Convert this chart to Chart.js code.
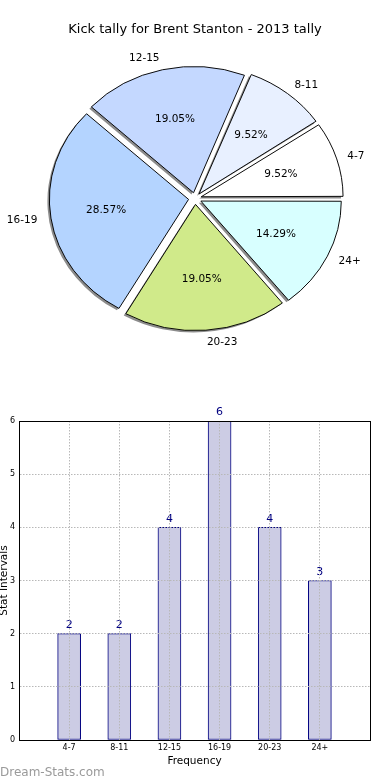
<!DOCTYPE html>
<html lang="en">
<head>
<meta charset="UTF-8">
<title>Kick tally for Brent Stanton - 2013 tally</title>
<script src="https://cdn.jsdelivr.net/npm/chart.js"></script>
<style>
  body { margin: 0; background: #fff; width: 390px; height: 780px; position: relative; overflow: hidden; font-family: 'DejaVu Sans', sans-serif; }
  .box { position: absolute; left: 0; width: 390px; height: 390px; }
  #pieBox { top: 0; }
  #barBox { top: 390px; }
  .mark { position: absolute; left: 0; top: 765px; font-size: 12px; line-height: 14px; color: #9a9a9a; }
</style>
</head>
<body>
<div id="pieBox" class="box"><canvas id="pieChart" width="390" height="390"></canvas></div>
<div id="barBox" class="box"><canvas id="barChart" width="390" height="390"></canvas></div>
<div class="mark">Dream-Stats.com</div>

<script>
// data
const categories = ['4-7', '8-11', '12-15', '16-19', '20-23', '24+'];
const counts = [2, 2, 4, 6, 4, 3];
const sliceColors = ['#ffffff', '#e8f0ff', '#c4d8ff', '#b4d4ff', '#d0ea8a', '#d8ffff'];

Chart.defaults.font.family = "'DejaVu Sans', sans-serif";

// matplotlib goes counter-clockwise from 3 o'clock, chart.js clockwise -> reverse
const pieCats = categories.slice().reverse();
const pieCounts = counts.slice().reverse();
const pieColors = sliceColors.slice().reverse();

const SY = 0.905; // the pie in the original is a bit squashed (axes not equal)

const ellipsePlugin = {
    id: 'ellipse',
    beforeDatasetsDraw(chart) {
        const ctx = chart.ctx;
        const meta = chart.getDatasetMeta(0);
        const a0 = meta.data[0];
        ctx.save();
        ctx.translate(a0.x, a0.y);
        ctx.scale(1, SY);
        ctx.translate(-a0.x, -a0.y);
        // shadows under the wedges
        ctx.fillStyle = '#8c8c8c';
        meta.data.forEach(arc => {
            const dd = arc.options.offset / 4;
            const mid = (arc.startAngle + arc.endAngle) / 2;
            const r = arc.outerRadius + dd * (1 - Math.sin(Math.min(Math.PI, arc.circumference)));
            const sx = arc.x + Math.cos(mid) * dd - 2;
            const sy = arc.y + Math.sin(mid) * dd + 2;
            ctx.beginPath();
            ctx.moveTo(sx, sy);
            ctx.arc(sx, sy, r, arc.startAngle, arc.endAngle);
            ctx.closePath();
            ctx.fill();
        });
    },
    afterDatasetsDraw(chart) {
        chart.ctx.restore();
    }
};

const pieText = {
    id: 'pieText',
    afterDatasetsDraw(chart) {
        const ctx = chart.ctx;
        const meta = chart.getDatasetMeta(0);
        const data = chart.data.datasets[0].data;
        const total = data.reduce((s, v) => s + v, 0);
        ctx.save();
        ctx.fillStyle = '#000';
        ctx.font = "10.5px 'DejaVu Sans'";
        ctx.textBaseline = 'middle';
        meta.data.forEach((arc, i) => {
            const mid = (arc.startAngle + arc.endAngle) / 2;
            const dd = arc.options.offset / 4;
            const R = arc.outerRadius;
            const c = Math.cos(mid), s = Math.sin(mid);
            ctx.textAlign = c > 0 ? 'left' : 'right';
            ctx.fillText(chart.data.labels[i], arc.x + (dd + 1.1 * R) * c, arc.y + SY * (dd + 1.1 * R) * s);
            ctx.textAlign = 'center';
            ctx.fillText((data[i] / total * 100).toFixed(2) + '%', arc.x + (dd + 0.6 * R) * c, arc.y + SY * (dd + 0.6 * R) * s);
        });
        ctx.restore();
    }
};

new Chart(document.getElementById('pieChart'), {
    type: 'pie',
    data: {
        labels: pieCats,
        datasets: [{
            data: pieCounts,
            backgroundColor: pieColors,
            borderColor: '#000',
            borderWidth: 1,
            offset: 26,
            clip: false
        }]
    },
    options: {
        responsive: false,
        animation: false,
        events: [],
        rotation: 90,
        radius: 139,
        layout: { padding: { bottom: 40.6 } },
        plugins: {
            legend: { display: false },
            tooltip: { enabled: false },
            title: {
                display: true,
                text: 'Kick tally for Brent Stanton - 2013 tally',
                color: '#000',
                font: { size: 13, weight: 'normal' },
                padding: { top: 22, bottom: 10 }
            }
        }
    },
    plugins: [ellipsePlugin, pieText]
});

// bar chart
const frameBox = {
    id: 'frameBox',
    afterDraw(chart) {
        const { ctx, chartArea: a } = chart;
        ctx.save();
        ctx.strokeStyle = '#000';
        ctx.lineWidth = 1;
        ctx.strokeRect(a.left + 0.5, a.top + 0.5, a.width, a.height);
        ctx.restore();
    }
};

const barValues = {
    id: 'barValues',
    afterDatasetsDraw(chart) {
        const ctx = chart.ctx;
        const meta = chart.getDatasetMeta(0);
        ctx.save();
        ctx.fillStyle = '#000080';
        ctx.font = "11px 'DejaVu Sans'";
        ctx.textAlign = 'center';
        ctx.textBaseline = 'bottom';
        meta.data.forEach((bar, i) => {
            ctx.fillText(counts[i], bar.x, bar.y - 3);
        });
        ctx.restore();
    }
};

new Chart(document.getElementById('barChart'), {
    type: 'bar',
    data: {
        datasets: [{
            data: counts.map((v, i) => ({ x: i, y: v })),
            backgroundColor: '#ccccE4',
            borderColor: '#000080',
            borderWidth: 1,
            borderSkipped: false,
            barThickness: 23
        }]
    },
    options: {
        responsive: false,
        animation: false,
        events: [],
        layout: { padding: { top: 31, right: 20, left: 0, bottom: 0 } },
        plugins: {
            legend: { display: false },
            tooltip: { enabled: false }
        },
        scales: {
            x: {
                type: 'linear',
                min: -1,
                max: 6,
                offset: false,
                afterFit: s => { s.height = 40; },
                ticks: {
                    stepSize: 1,
                    autoSkip: false,
                    maxRotation: 0,
                    padding: 3,
                    color: '#000',
                    font: { size: 8 },
                    callback: v => categories[v] ?? ''
                },
                grid: { color: '#b8b8b8', drawTicks: false, offset: false, z: 1 },
                border: { color: '#000', dash: [1.5, 1.5], z: 2 },
                title: {
                    display: true,
                    text: 'Frequency',
                    color: '#000',
                    font: { size: 10.5 },
                    padding: { top: 0, bottom: 12.7 }
                }
            },
            y: {
                min: 0,
                max: 6,
                afterFit: s => { s.width = 19; },
                ticks: { stepSize: 1, padding: 4, color: '#000', font: { size: 8 } },
                grid: { color: '#b8b8b8', drawTicks: false, z: 1 },
                border: { color: '#000', dash: [1.5, 1.5], z: 2 },
                title: {
                    display: true,
                    text: 'Stat Intervals',
                    color: '#000',
                    font: { size: 10.5 },
                    padding: { top: -2, bottom: 0 }
                }
            }
        }
    },
    plugins: [barValues, frameBox]
});
</script>
</body>
</html>
